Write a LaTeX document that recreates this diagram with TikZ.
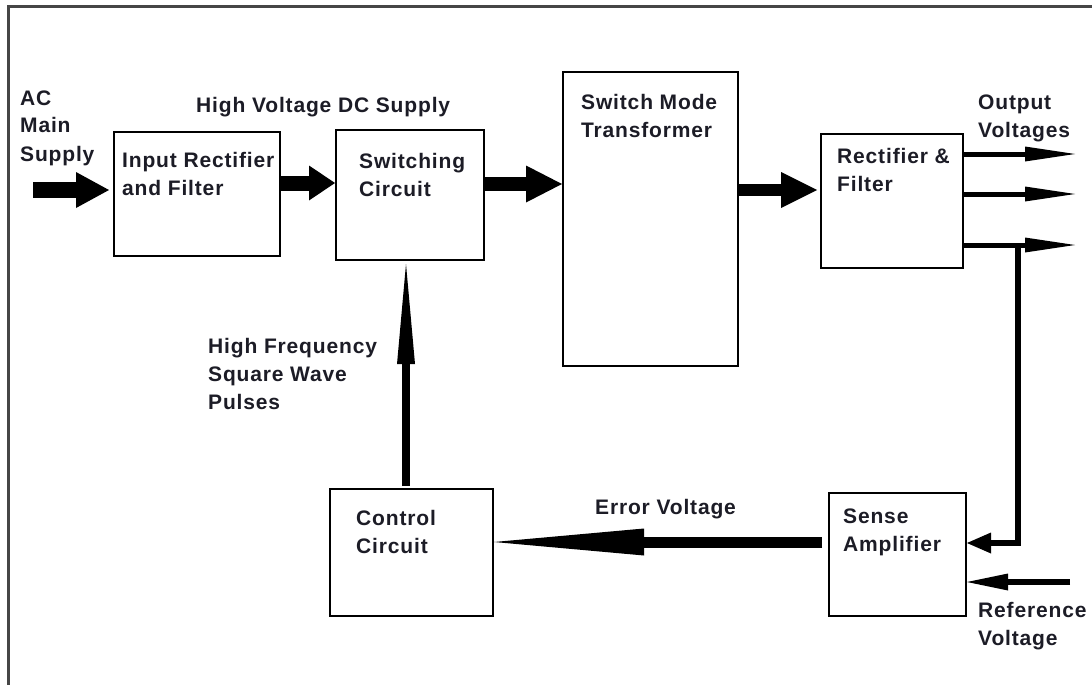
\documentclass[tikz,border=0pt]{standalone}
\usepackage{fontspec}
\setmainfont{Liberation Sans}[LetterSpace=4]
\usetikzlibrary{arrows.meta}
\definecolor{txt}{RGB}{28,28,38}
\definecolor{frame}{RGB}{70,70,70}
\newcommand\lns[1]{\vtop{\halign{##\hfil\cr#1\crcr}}}
\begin{document}
\begin{tikzpicture}[x=1pt,y=-1pt,
  box/.style={draw=black, line width=2pt, inner sep=0pt},
  lbl/.style={anchor=base west, inner sep=0pt, font=\fontsize{21}{28}\selectfont\bfseries, text=txt},
  fat/.style n args={3}{draw=black, line width=#1, line join=miter, -{Triangle[length=#2, width=#3, line width=0pt]}}
]
\useasboundingbox (0,0) rectangle (1092,685);
\fill[white] (0,0) rectangle (1092,685);
% frame
\draw[frame, line width=3pt] (8,685) -- (8,7) -- (1092,7);

% boxes
\node[box, minimum width=166pt, minimum height=124pt] (inrect) at (197,194) {};
\node[box, minimum width=148pt, minimum height=130pt] (switch) at (410,195) {};
\node[box, minimum width=175pt, minimum height=294pt] (trans) at (650.5,219) {};
\node[box, minimum width=142pt, minimum height=134pt] (rect) at (892,201) {};
\node[box, minimum width=137pt, minimum height=123pt] (sense) at (897.5,554.5) {};
\node[box, minimum width=163pt, minimum height=127pt] (ctrl) at (411.5,552.5) {};

% labels
\node[lbl] (lac) at (20,105) {\lns{AC\cr Main\cr Supply}};
\node[lbl] (lhv) at (196,112) {High Voltage DC Supply};
\node[lbl] (lin) at (122,167) {\lns{Input Rectifier\cr and Filter}};
\node[lbl] (lsw) at (359,168) {\lns{Switching\cr Circuit}};
\node[lbl] (ltr) at (581,110) {\lns{Switch Mode\cr Transformer}};
\node[lbl] (lre) at (837,163) {\lns{Rectifier \&\cr Filter}};
\node[lbl] (lout) at (978,110) {\lns{Output\cr Voltages}};
\node[lbl] (lhf) at (208,353) {\lns{High Frequency\cr Square Wave\cr Pulses}};
\node[lbl] (lerr) at (595,514) {Error Voltage};
\node[lbl] (lct) at (356,525) {\lns{Control\cr Circuit}};
\node[lbl] (lse) at (843,523) {\lns{Sense\cr Amplifier}};
\node[lbl] (lref) at (978,617) {\lns{Reference\cr Voltage}};

% helper coordinates
\coordinate (acstart) at (33,190);
\coordinate (row1) at (0,183);
\coordinate (row2) at (0,184);
\coordinate (row3) at (0,190);
\coordinate (out1) at (1075,154);
\coordinate (out2) at (1075,194);
\coordinate (out3) at (1075,245);
\coordinate (fbx) at (1018,245);
\coordinate (fbrow) at (0,543);
\coordinate (refstart) at (1070,582);
\coordinate (hfx) at (406,0);
\coordinate (errrow) at (0,542);

% main power path
\draw[fat={16pt}{33pt}{36pt}] (acstart) -- ([xshift=-4pt]inrect.west |- acstart);
\draw[fat={15pt}{26pt}{35pt}] (inrect.east |- row1) -- (switch.west |- row1);
\draw[fat={14pt}{36pt}{37pt}] (switch.east |- row2) -- (trans.west |- row2);
\draw[fat={12pt}{36pt}{36pt}] (trans.east |- row3) -- ([xshift=-3pt]rect.west |- row3);

% outputs
\draw[fat={5pt}{50pt}{15pt}] (rect.east |- out1) -- (out1);
\draw[fat={5pt}{50pt}{15pt}] (rect.east |- out2) -- (out2);
\draw[fat={5pt}{50pt}{15pt}] (rect.east |- out3) -- (out3);

% feedback
\draw[fat={6pt}{24pt}{21pt}] (fbx) -- (fbx |- fbrow) -- (sense.east |- fbrow);
\draw[fat={6pt}{41pt}{17pt}] (refstart) -- (sense.east |- refstart);

% error voltage
\draw[fat={11pt}{150pt}{27pt}] ([xshift=-6pt]sense.west |- errrow) -- (ctrl.east |- errrow);

% high frequency pulses
\draw[fat={8pt}{100pt}{18pt}] ([yshift=2pt]ctrl.north -| hfx) -- ([yshift=-3pt]switch.south -| hfx);
\end{tikzpicture}
\end{document}
